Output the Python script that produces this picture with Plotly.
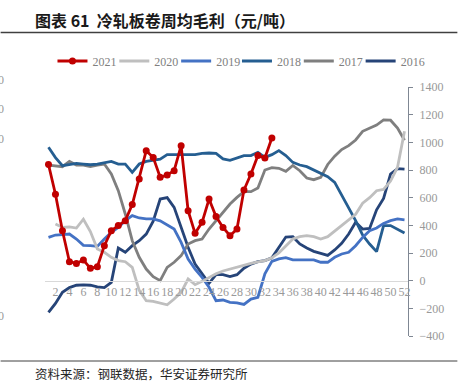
import plotly.graph_objects as go

weeks = list(range(1, 53))
tick_weeks = list(range(2, 53, 2))
tick_labels = [str(w) for w in tick_weeks]

y2021 = [840, 625, 361, 137, 125, 150, 89, 101, 253, 361, 398, 434, 550, 735, 940, 891,
         747, 764, 795, 976, 506, 342, 422, 590, 463, 385, 325, 373, 655, 771, 904, 887, 1031]
y2020 = [None, 410, 385, 388, 380, 444, 355, 229, 205, 169, 145, 137, 96, -70, -145, -149,
         -160, -174, -133, -84, 12, -29, -5, 24, 50, 70, 85, 100, 115, 125, 135, 145,
         165, 200, 250, 301, 318, 325, 318, 301, 318, 360, 400, 440, 480, 560, 600, 650,
         660, 720, 820, 1080]
y2019 = [313, 330, 333, 337, 301, 255, 253, 248, 301, 349, 385, 434, 470, 453, 446, 446,
         432, 400, 373, 277, 157, 84, 24, -48, -145, -140, -157, -160, -172, -133, -120, 50,
         140, 157, 166, 150, 150, 145, 150, 133, 133, 169, 193, 205, 253, 313, 361, 381,
         414, 434, 446, 440]
y2018 = [964, 890, 831, 838, 848, 843, 838, 843, 855, 862, 843, 843, 783, 843, 862, 872,
         879, 911, 911, 911, 909, 911, 920, 923, 920, 880, 870, 887, 904, 904, 928, 891,
         911, 940, 904, 855, 836, 824, 800, 771, 752, 711, 620, 520, 434, 330, 265, 210,
         398, 398, 373, 345]
y2017 = [836, 831, 824, 862, 836, 836, 824, 836, 843, 771, 651, 482, 289, 169, 84, 29,
         0, 96, 133, 181, 265, 289, 301, 373, 434, 494, 554, 602, 643, 643, 670, 800,
         817, 812, 790, 833, 795, 742, 730, 747, 840, 900, 948, 976, 1017, 1080, 1104, 1125,
         1162, 1160, 1104, 1015]
y2016 = [-229, -165, -84, -50, -33, -30, -33, -45, -50, -12, 236, 205, 253, 289, 337, 430,
         590, 600, 530, 385, 241, 120, 48, -19, 43, 43, 29, 43, 90, 120, 137, 145,
         165, 241, 315, 318, 265, 236, 212, 198, 183, 222, 270, 337, 422, 373, 378, 512,
         595, 771, 810, 807]

# drawn bottom-to-top; legend slot index gives left-to-right order
series = [
    ("2016", y2016, "#264478", 5),
    ("2017", y2017, "#7F7F7F", 4),
    ("2018", y2018, "#255E91", 3),
    ("2019", y2019, "#4472C4", 2),
    ("2020", y2020, "#BFBFBF", 1),
    ("2021", y2021, "#C00000", 0),
]

left_labels = ["1400", "1200", "1000", "800", "600", "400", "200", "0", "-200"]

W, H = 458, 382
L, R, T, B = 44.5, 49.5, 87, 46
pw, ph = W - L - R, H - T - B


def px_x(p):
    return (p - L) / pw


def px_y(p):
    return (H - B - p) / ph


serif = "Liberation Serif"
legend_line_starts = [61, 123, 185, 246, 308, 370]

fig = go.Figure()
legend_layouts = {}
for name, vals, col, slot in series:
    lg = "legend" if slot == 0 else f"legend{slot + 1}"
    kw = dict(x=weeks[:len(vals)], y=vals, name=name, legend=lg,
              line=dict(color=col, width=2.8))
    if name == "2021":
        fig.add_trace(go.Scatter(mode="lines+markers",
                                 marker=dict(color=col, size=7, symbol="circle"), **kw))
    else:
        fig.add_trace(go.Scatter(mode="lines", **kw))
    legend_layouts[lg] = dict(orientation="h", x=px_x(legend_line_starts[slot] - 9),
                              y=px_y(61), xanchor="left", yanchor="middle",
                              itemwidth=30, font=dict(family=serif, size=12, color="#7F7F7F"),
                              bgcolor="rgba(0,0,0,0)", borderwidth=0)

fig.update_layout(
    width=W, height=H,
    margin=dict(l=L, r=R, t=T, b=B, pad=0),
    paper_bgcolor="white", plot_bgcolor="white",
    showlegend=True,
    xaxis=dict(range=[0.5, 52.5], tickvals=tick_weeks, ticktext=tick_labels, tickangle=0,
               anchor="free", position=400 / 1800, showline=True, linecolor="#D9D9D9",
               linewidth=1, showgrid=False, zeroline=False, ticks="",
               tickfont=dict(family=serif, size=12, color="#999999")),
    yaxis=dict(range=[-400, 1400], dtick=200, side="right", showline=True,
               linecolor="#7F8793", linewidth=1.2, ticks="outside", ticklen=4,
               tickcolor="#7F8793", showgrid=False, zeroline=False,
               tickfont=dict(family=serif, size=12, color="#999999"),
               ticklabelstandoff=4),
    **legend_layouts,
)

# title, rules, source
fig.add_annotation(text="<b>图表 61  冷轧板卷周均毛利（元/吨）</b>", xref="paper", yref="paper",
                   x=px_x(32), y=px_y(20), xanchor="left", yanchor="middle", showarrow=False,
                   font=dict(family="Noto Sans CJK SC", size=16, color="#1A1A1A"))
fig.add_shape(type="line", xref="paper", yref="paper", x0=px_x(0), x1=px_x(W),
              y0=px_y(32.5), y1=px_y(32.5), line=dict(color="#404040", width=1.5))
fig.add_shape(type="line", xref="paper", yref="paper", x0=px_x(0), x1=px_x(W),
              y0=px_y(361), y1=px_y(361), line=dict(color="#404040", width=1))
fig.add_annotation(text="资料来源：钢联数据，华安证券研究所", xref="paper", yref="paper",
                   x=px_x(32), y=px_y(373), xanchor="left", yanchor="middle", showarrow=False,
                   font=dict(family="Noto Sans CJK SC", size=12.5, color="#262626"))

# clipped left-axis labels of the original figure
left_pos = [80, 109, 139, 168, 197, 227, 257, 287, 316]
left_edge = [5.5, 5.5, 5.5, 1.5, 1.5, 1.5, 1.5, 0, 5.5]
for lab, p, e in zip(left_labels, left_pos, left_edge):
    fig.add_annotation(text=lab, xref="paper", yref="paper", x=px_x(e), y=px_y(p),
                       xanchor="right", yanchor="middle", showarrow=False,
                       font=dict(family=serif, size=12, color="#999999"))

fig.write_html("out.html", config={"displayModeBar": False},
               post_script="document.body.style.margin='0';document.body.style.overflow='hidden';")
